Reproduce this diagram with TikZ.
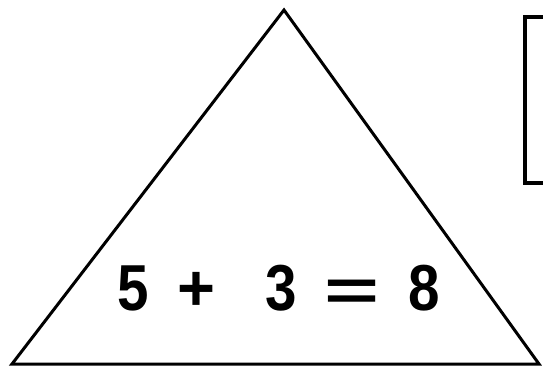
\documentclass[tikz,border=0pt]{standalone}
\usepackage{fontspec}
\setmainfont{Liberation Sans}
\usepackage{graphicx}
\newcommand{\nd}[1]{\scalebox{0.87}[1]{#1}}
\begin{document}
\begin{tikzpicture}[x=1pt,y=1pt,
  edge/.style={line width=3pt,line join=miter},
  boxline/.style={line width=4pt},
  eqtext/.style={font=\fontsize{65}{70}\selectfont\bfseries,inner sep=0pt}]
\useasboundingbox (0,0) rectangle (543,370);
\coordinate (apex) at (284,360);
\coordinate (bl) at (12,6);
\coordinate (br) at (539,6);
\draw[edge] (bl) -- (apex) -- (br) -- cycle;
\coordinate (bt) at (560,353);
\coordinate (btl) at (525,353);
\coordinate (bbl) at (525,187);
\coordinate (bb) at (560,187);
\draw[boxline] (bt) -- (btl) -- (bbl) -- (bb);
\node[eqtext] (eq) at (279,82) {\nd{5}\hspace{28pt}+\hspace{50pt}\nd{3}\hspace{28pt}\scalebox{1.45}[0.9]{=}\hspace{29pt}\nd{8}};
\end{tikzpicture}
\end{document}
